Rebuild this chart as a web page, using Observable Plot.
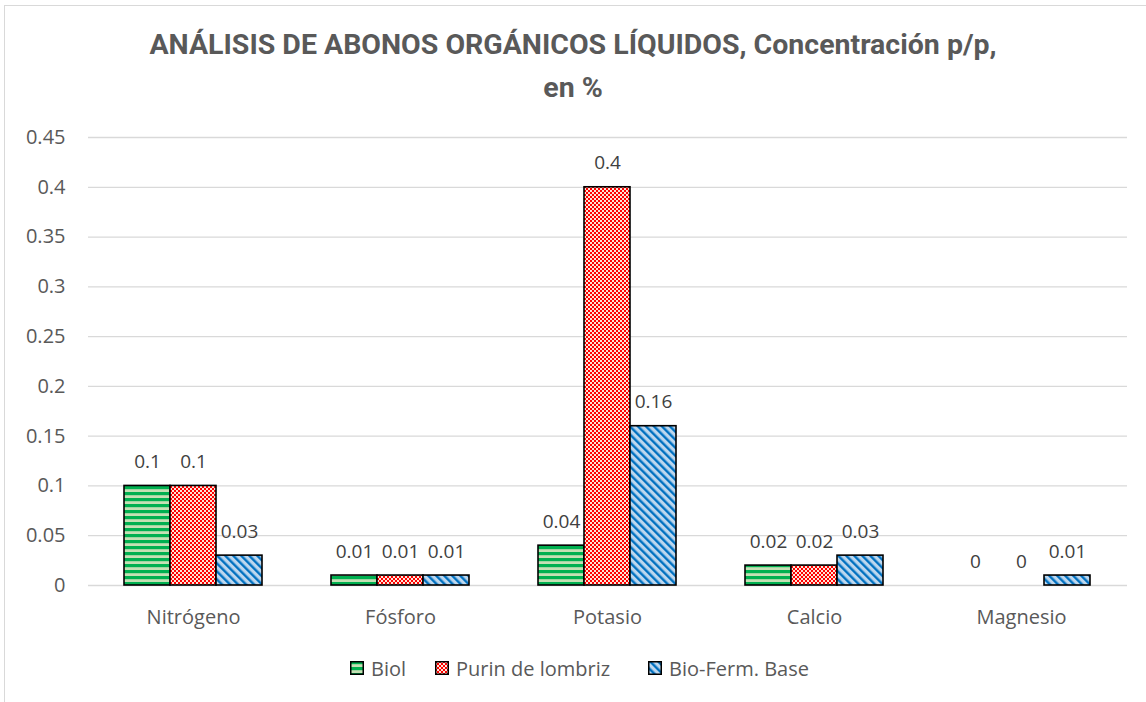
<!DOCTYPE html>
<html>
<head>
<meta charset="utf-8">
<script src="https://cdn.jsdelivr.net/npm/d3@7"></script>
<script src="https://cdn.jsdelivr.net/npm/@observablehq/plot@0.6"></script>
<style>
  html, body { margin: 0; padding: 0; background: #fff; }
  #wrap { position: relative; width: 1146px; height: 702px; overflow: hidden; background: #fff; }
  #frame { position: absolute; left: 4px; top: 5px; width: 1200px; height: 800px; border: 1px solid #d9d9d9; box-sizing: border-box; }
  #title { position: absolute; left: 0; top: 23px; width: 1146px; text-align: center; font-family: Roboto, "Open Sans", sans-serif; font-weight: 700; font-size: 28.5px; line-height: 43px; color: #595959; }
  #grid, #chart { position: absolute; left: 0; top: 120px; }
  #legend { position: absolute; left: 350px; top: 654px; display: flex; align-items: center; font-family: "Open Sans", sans-serif; font-size: 20px; color: #595959; height: 28px; }
  .item { display: flex; align-items: center; }
  .item svg { margin-right: 7px; display: block; }
</style>
</head>
<body>
<svg width="0" height="0" style="position:absolute">
  <defs>
    <pattern id="pBiol" patternUnits="userSpaceOnUse" width="6" height="6">
      <rect width="6" height="6" fill="#c5e0b4"></rect>
      <rect width="6" height="3.2" fill="#00b050"></rect>
    </pattern>
    <pattern id="pPurin" patternUnits="userSpaceOnUse" width="4" height="4">
      <rect width="4" height="4" fill="#fce4d6"></rect>
      <rect x="0" y="0" width="2" height="2" fill="#ff0000"></rect>
      <rect x="2" y="2" width="2" height="2" fill="#ff0000"></rect>
    </pattern>
    <pattern id="pBio" patternUnits="userSpaceOnUse" width="5.66" height="5.66" patternTransform="rotate(-45)">
      <rect width="5.66" height="5.66" fill="#bdd7ee"></rect>
      <rect width="2.4" height="5.66" fill="#0070c0"></rect>
    </pattern>
  </defs>
</svg>
<div id="wrap">
  <div id="frame"></div>
  <div id="title">ANÁLISIS DE ABONOS ORGÁNICOS LÍQUIDOS, Concentración p/p,<br>en %</div>
  <div id="grid"></div>
  <div id="chart"></div>
  <div id="legend"></div>
</div>
<script>
const categories = ["Nitrógeno", "Fósforo", "Potasio", "Calcio", "Magnesio"];
const seriesNames = ["Biol", "Purin de lombriz", "Bio-Ferm. Base"];
const biol = [0.1, 0.01, 0.04, 0.02, 0];
const purin = [0.1, 0.01, 0.4, 0.02, 0];
const bioFerm = [0.03, 0.01, 0.16, 0.03, 0.01];
const yTicks = [0, 0.05, 0.1, 0.15, 0.2, 0.25, 0.3, 0.35, 0.4, 0.45];
const patternFills = ["url(#pBiol)", "url(#pPurin)", "url(#pBio)"];
const legendItemWidths = ["85px", "213px", "auto"];

const seriesValues = [biol, purin, bioFerm];
const data = [];
categories.forEach((c, i) => {
  seriesNames.forEach((s, j) => {
    data.push({category: c, series: s, value: seriesValues[j][i], fill: patternFills[j]});
  });
});

const dims = {width: 1146, height: 515, marginLeft: 88, marginRight: 19, marginTop: 17, marginBottom: 50};
const baseStyle = {fontFamily: "'Open Sans', sans-serif", fontSize: "20px", color: "#595959", background: "transparent", overflow: "visible"};
const yScale = {domain: [0, 0.45], ticks: yTicks, tickFormat: d => String(+d.toFixed(2)), tickSize: 0, tickPadding: 23, label: null};

// Background: gridlines across the full plot width + y axis labels
const grid = Plot.plot({
  ...dims,
  style: baseStyle,
  y: yScale,
  marks: [
    Plot.ruleY(yTicks, {y: d => d, stroke: "#d9d9d9", strokeWidth: 1.3})
  ]
});
document.getElementById("grid").appendChild(grid);

// Foreground: grouped bars via fx facets
const chart = Plot.plot({
  ...dims,
  style: baseStyle,
  fx: {domain: categories, paddingInner: 0.331, paddingOuter: 0.1655, label: null, tickSize: 0, tickPadding: 24, axis: "bottom"},
  x: {domain: seriesNames, padding: 0, axis: null},
  y: {...yScale, axis: null},
  color: {type: "identity"},
  marks: [
    Plot.barY(data, {fx: "category", x: "series", y: "value", fill: "fill", stroke: "#000", strokeWidth: 1.6}),
    Plot.text(data, {fx: "category", x: "series", y: "value", text: d => String(d.value), dy: -24, fill: "#404040", fontSize: 19})
  ]
});
document.getElementById("chart").appendChild(chart);

const legend = document.getElementById("legend");
seriesNames.forEach((s, j) => {
  const item = document.createElement("div");
  item.className = "item";
  item.style.width = legendItemWidths[j];
  item.innerHTML = `<svg width="14" height="14"><rect x="0.75" y="0.75" width="12.5" height="12.5" fill="${patternFills[j]}" stroke="#000" stroke-width="1.5"></rect></svg><span>${s}</span>`;
  legend.appendChild(item);
});
</script>
</body>
</html>
